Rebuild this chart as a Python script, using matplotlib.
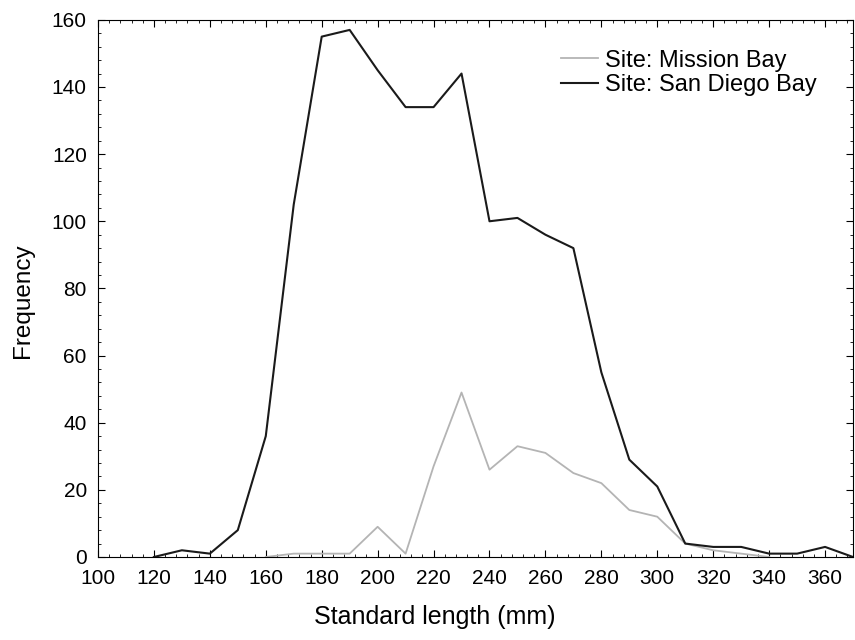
import matplotlib
matplotlib.use('Agg')

import matplotlib.pyplot as plt
from matplotlib.ticker import MultipleLocator, AutoMinorLocator

plt.rcParams['font.family'] = ['Liberation Sans', 'DejaVu Sans']

# standard length bins (mm) and frequencies
sd_length = [120, 130, 140, 150, 160, 170, 180, 190, 200, 210, 220, 230, 240,
             250, 260, 270, 280, 290, 300, 310, 320, 330, 340, 350, 360, 370]
sd_freq = [0, 2, 1, 8, 36, 105, 155, 157, 145, 134, 134, 144, 100,
           101, 96, 92, 55, 29, 21, 4, 3, 3, 1, 1, 3, 0]

mb_length = [160, 170, 180, 190, 200, 210, 220, 230, 240, 250, 260, 270,
             280, 290, 300, 310, 320, 330, 340]
mb_freq = [0, 1, 1, 1, 9, 1, 27, 49, 26, 33, 31, 25,
           22, 14, 12, 4, 2, 1, 0]

fig = plt.figure(figsize=(8.55, 6.4), dpi=100)
ax = fig.add_axes([0.1146, 0.1297, 0.8831, 0.8393])

ax.plot(mb_length, mb_freq, color='#b4b4b4', lw=1.3, label='Site: Mission Bay')
ax.plot(sd_length, sd_freq, color='#1a1a1a', lw=1.5, label='Site: San Diego Bay')

ax.set_xlim(100, 370)
ax.set_ylim(0, 160)
ax.xaxis.set_major_locator(MultipleLocator(20))
ax.yaxis.set_major_locator(MultipleLocator(20))
ax.xaxis.set_minor_locator(AutoMinorLocator(5))
ax.yaxis.set_minor_locator(AutoMinorLocator(5))
ax.tick_params(which='both', direction='in', top=True, right=True, labelsize=15)
ax.tick_params(which='major', length=5)
ax.tick_params(which='minor', length=2.5)
ax.tick_params(axis='x', which='major', pad=9)
ax.tick_params(axis='y', which='major', pad=8)

ax.set_xlabel('Standard length (mm)', fontsize=18)
ax.set_ylabel('Frequency', fontsize=17.5)
ax.xaxis.set_label_coords(0.446, -0.09)
ax.yaxis.set_label_coords(-0.085, 0.477)

ax.legend(loc='upper right', bbox_to_anchor=(0.964, 0.962), frameon=False,
          fontsize=17, handlelength=1.55, handletextpad=0.3,
          borderaxespad=0.0, labelspacing=0.1)

fig.savefig('out.png', dpi=100)
